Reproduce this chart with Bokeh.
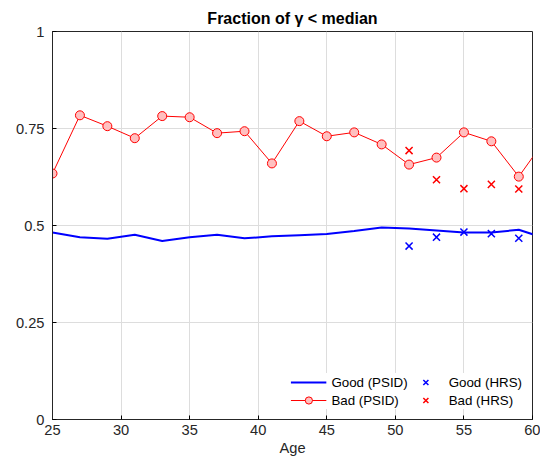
from bokeh.plotting import figure
from bokeh.embed import file_html
from bokeh.resources import INLINE
from bokeh.models import Range1d, FixedTicker, Legend, LegendItem

ages = [25, 27, 29, 31, 33, 35, 37, 39, 41, 43, 45, 47, 49, 51, 53, 55, 57, 59]
bad_psid = [0.634, 0.784, 0.756, 0.725, 0.782, 0.779, 0.738, 0.743, 0.660, 0.769,
            0.730, 0.740, 0.709, 0.657, 0.675, 0.740, 0.717, 0.626]
line_ages = ages + [61]
bad_psid_line = bad_psid + [0.725]
good_psid = [0.482, 0.470, 0.466, 0.476, 0.460, 0.470, 0.476, 0.467, 0.472, 0.475,
             0.478, 0.486, 0.495, 0.492, 0.487, 0.482, 0.482, 0.489, 0.466]
hrs_ages = [51, 53, 55, 57, 59]
good_hrs = [0.447, 0.470, 0.483, 0.479, 0.467]
bad_hrs = [0.693, 0.618, 0.595, 0.606, 0.594]

p = figure(width=540, height=458, output_backend="svg", toolbar_location=None,
           x_range=Range1d(25, 60), y_range=Range1d(0, 1),
           min_border_left=52, min_border_right=8, min_border_top=31, min_border_bottom=32)
p.title.text = "Fraction of γ < median"
p.title.align = "center"
p.title.text_font = "Liberation Sans"
p.title.text_font_size = "12pt"
p.title.text_color = "black"
p.outline_line_color = "#262626"
p.xaxis.ticker = FixedTicker(ticks=[25, 30, 35, 40, 45, 50, 55, 60])
p.yaxis.ticker = FixedTicker(ticks=[0, 0.25, 0.5, 0.75, 1])
p.yaxis.major_label_overrides = {0: "0", 0.25: "0.25", 0.5: "0.5", 0.75: "0.75", 1: "1"}
p.xaxis.axis_label = "Age"
for ax in (p.xaxis, p.yaxis):
    ax.major_label_text_font = "Liberation Sans"
    ax.major_label_text_font_size = "11pt"
    ax.major_label_text_color = "#262626"
    ax.axis_label_text_font = "Liberation Sans"
    ax.axis_label_text_font_size = "11pt"
    ax.axis_label_text_color = "#262626"
    ax.axis_label_text_font_style = "normal"
    ax.major_tick_in = 4
    ax.major_tick_out = 0
    ax.minor_tick_line_color = None
    ax.axis_line_color = "#262626"
p.xaxis.axis_label_standoff = 2
p.yaxis.major_label_standoff = 8
p.grid.grid_line_color = "#dddddd"

g1 = p.line(line_ages, good_psid, color="blue", line_width=2)
b1 = p.line(line_ages, bad_psid_line, color="red", line_width=1)
b1m = p.scatter(ages, bad_psid, marker="circle", size=9, fill_color="#ffc0c0", line_color="red")
g2 = p.scatter(hrs_ages, good_hrs, marker="x", size=10, line_color="blue", line_width=1.5)
b2 = p.scatter(hrs_ages, bad_hrs, marker="x", size=10, line_color="red", line_width=1.5)

legend = Legend(items=[
    LegendItem(label="Good (PSID)", renderers=[g1]),
    LegendItem(label="Bad (PSID)", renderers=[b1, b1m]),
    LegendItem(label="Good (HRS)", renderers=[g2]),
    LegendItem(label="Bad (HRS)", renderers=[b2]),
], location="bottom_right", ncols=2)
legend.label_text_font = "Liberation Sans"
legend.label_text_font_size = "10pt"
legend.label_text_color = "black"
legend.border_line_color = None
legend.background_fill_alpha = 1
legend.spacing = 0
legend.padding = 4
legend.label_height = 18
legend.glyph_height = 18
legend.glyph_width = 36
p.add_layout(legend)

open("out.html", "w").write(file_html(p, INLINE))
